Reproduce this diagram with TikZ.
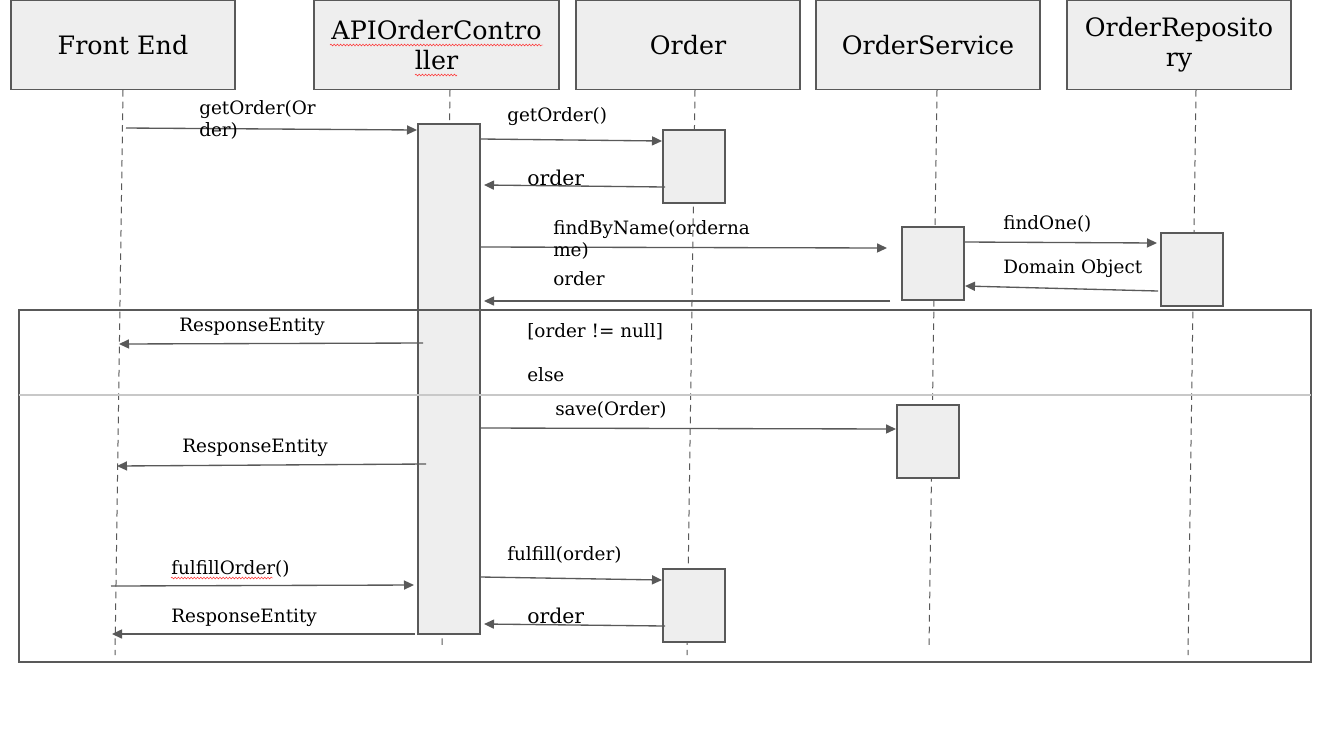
\documentclass[tikz,border=0pt]{standalone}
\usepackage{fontspec}
\setmainfont{DejaVu Serif}
\usetikzlibrary{arrows.meta,decorations.pathmorphing}
\definecolor{ln}{HTML}{595959}
\definecolor{bx}{HTML}{EEEEEE}
\definecolor{sepc}{HTML}{C8C8C8}
\begin{document}
\begin{tikzpicture}[x=0.75pt,y=-0.75pt,
  head/.style={draw=ln, fill=bx, line width=0.9pt, minimum width=168pt, minimum height=66.75pt, inner sep=0pt, align=center, font=\fontsize{19}{22.5}\selectfont},
  act/.style={draw=ln, fill=bx, line width=0.9pt, minimum width=46.5pt, minimum height=54.75pt, inner sep=0pt},
  life/.style={draw=ln, line width=0.75pt, dash pattern=on 5pt off 3.75pt},
  msg/.style={draw=ln, line width=1pt, -{Triangle[length=7.5pt,width=6.8pt]}},
  lbl/.style={anchor=base west, inner sep=0pt, align=left, font=\fontsize{13.8}{16.5}\selectfont},
  biglbl/.style={lbl, font=\fontsize{15.3}{18}\selectfont},
  framebox/.style={draw=ln, line width=1pt},
  sepline/.style={draw=sepc, line width=1.1pt},
  wavy/.style={draw=red!85, line width=0.35pt, decorate, decoration={snake, amplitude=0.7pt, segment length=2.4pt}}
]
\useasboundingbox (0,0) rectangle (1321,744);

% lifelines
\coordinate (feT) at (123,90);  \coordinate (feB) at (115,655);
\coordinate (apT) at (450,90);  \coordinate (apB) at (442,648);
\coordinate (orT) at (695,90);  \coordinate (orB) at (687,655);
\coordinate (osT) at (937,90);  \coordinate (osB) at (929,648);
\coordinate (rpT) at (1196,90); \coordinate (rpB) at (1188,655);
\draw[life] (feT) -- (feB);
\draw[life] (apT) -- (apB);
\draw[life] (orT) -- (orB);
\draw[life] (osT) -- (osB);
\draw[life] (rpT) -- (rpB);

% activation boxes
\node[act, minimum height=382.5pt] (apiact) at (449,379) {};
\node[act] (ord1) at (694,166.5) {};
\node[act] (os1) at (933,263.5) {};
\node[act] (rep1) at (1192,269.5) {};
\node[act] (os2) at (928,441.5) {};
\node[act] (ord2) at (694,605.5) {};

% headers
\node[head] (hfe) at (123,45) {Front End};
\node[head, minimum width=183.75pt] (hapi) at (436.5,45) {APIOrderContro\\ller};
\node[head] (hord) at (688,45) {Order};
\node[head] (hos) at (928,45) {OrderService};
\node[head] (hrep) at (1179,45) {OrderReposito\\ry};

% message end points
\coordinate (m1a) at (126,128);  \coordinate (m1b) at (417,130);
\coordinate (m2a) at (481,139);  \coordinate (m2b) at (662,141);
\coordinate (m3a) at (665,187);  \coordinate (m3b) at (484,185);
\coordinate (m4a) at (481,247);  \coordinate (m4b) at (887,248);
\coordinate (m5a) at (965,242);  \coordinate (m5b) at (1157,243);
\coordinate (m6a) at (1158,291); \coordinate (m6b) at (965,286);
\coordinate (m7a) at (890,301);  \coordinate (m7b) at (484,301);
\coordinate (m8a) at (423,343);  \coordinate (m8b) at (119,344);
\coordinate (m9a) at (481,428);  \coordinate (m9b) at (896,429);
\coordinate (m10a) at (426,464); \coordinate (m10b) at (117,466);
\coordinate (m11a) at (481,577); \coordinate (m11b) at (662,580);
\coordinate (m12a) at (111,586); \coordinate (m12b) at (414,585);
\coordinate (m13a) at (415,634); \coordinate (m13b) at (112,634);
\coordinate (m14a) at (665,626); \coordinate (m14b) at (484,624);

\draw[msg] (m1a) -- (m1b);
\draw[msg] (m2a) -- (m2b);
\draw[msg] (m3a) -- (m3b);
\draw[msg] (m4a) -- (m4b);
\draw[msg] (m5a) -- (m5b);
\draw[msg] (m6a) -- (m6b);
\draw[msg] (m7a) -- (m7b);
\draw[msg] (m8a) -- (m8b);
\draw[msg] (m9a) -- (m9b);
\draw[msg] (m10a) -- (m10b);
\draw[msg] (m11a) -- (m11b);
\draw[msg] (m12a) -- (m12b);
\draw[msg] (m13a) -- (m13b);
\draw[msg] (m14a) -- (m14b);

% alt fragment
\draw[framebox] (19,310) rectangle (1311,662);
\draw[sepline] (19,395) -- (1311,395);

% labels
\node[lbl] (l1) at (199,136) {getOrder(Or\\der)};
\node[lbl] (l2) at (507,121) {getOrder()};
\node[biglbl] (l3) at (527,185) {order};
\node[lbl] (l4) at (553,256) {findByName(orderna\\me)};
\node[lbl] (l5) at (1003,229) {findOne()};
\node[lbl] (l6) at (1003,273) {Domain Object};
\node[lbl] (l7) at (553,285) {order};
\node[lbl] (l8) at (179,331) {ResponseEntity};
\node[lbl] (l9) at (527,337) {[order != null]};
\node[lbl] (l10) at (527,381) {else};
\node[lbl] (l11) at (555,415) {save(Order)};
\node[lbl] (l12) at (182,452) {ResponseEntity};
\node[lbl] (l13) at (507,560) {fulfill(order)};
\node[lbl] (l14) at (171,574) {fulfillOrder()};
\node[lbl] (l15) at (171,622) {ResponseEntity};
\node[biglbl] (l16) at (527,623) {order};

% spell-check underlines
\draw[wavy] (330,45) -- (543,45);
\draw[wavy] (415,75) -- (457,75);
\draw[wavy] (171,578) -- (273,578);
\end{tikzpicture}
\end{document}
